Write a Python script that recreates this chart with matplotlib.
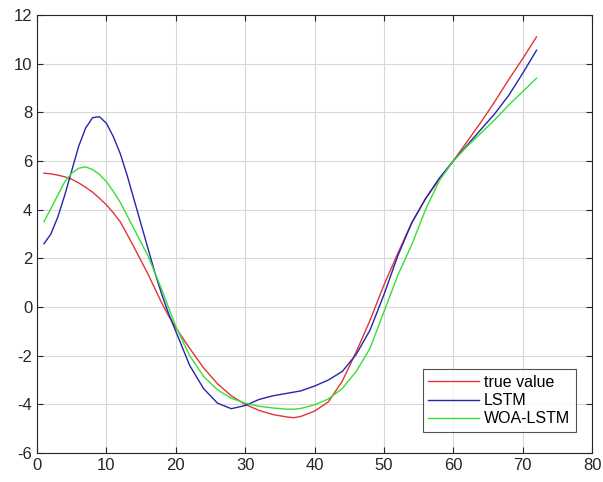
import matplotlib
matplotlib.use('Agg')
import matplotlib.pyplot as plt

# readings
x = [1, 2, 3, 4, 5, 6, 7, 8, 9, 10, 11, 12, 13, 14, 15, 16, 17, 18, 19, 20,
     22, 24, 26, 28, 30, 32, 34, 36, 37, 38, 40, 42, 44, 46, 48, 50, 52, 54,
     56, 58, 60, 62, 64, 66, 68, 70, 72]
true_value = [5.5, 5.47, 5.42, 5.35, 5.25, 5.1, 4.92, 4.72, 4.47, 4.2, 3.87, 3.5,
              2.98, 2.45, 1.9, 1.35, 0.75, 0.15, -0.38, -0.85, -1.7, -2.5,
              -3.15, -3.65, -4.0, -4.25, -4.42, -4.52, -4.55, -4.5, -4.28, -3.9,
              -3.05, -1.85, -0.55, 0.9, 2.2, 3.45, 4.45, 5.25, 6.0, 6.8, 7.6,
              8.45, 9.35, 10.2, 11.1]
lstm = [2.6, 3.0, 3.7, 4.6, 5.6, 6.6, 7.35, 7.78, 7.82, 7.55, 7.0, 6.3, 5.4, 4.4,
        3.4, 2.4, 1.4, 0.5, -0.3, -1.0, -2.4, -3.35, -3.95, -4.18, -4.05, -3.8,
        -3.65, -3.55, -3.5, -3.45, -3.25, -3.0, -2.65, -1.95, -0.95, 0.5, 2.1,
        3.45, 4.45, 5.3, 6.0, 6.65, 7.3, 7.95, 8.7, 9.6, 10.55]
woa_lstm = [3.5, 4.05, 4.6, 5.15, 5.5, 5.7, 5.76, 5.65, 5.45, 5.15, 4.75, 4.3,
            3.75, 3.2, 2.65, 2.1, 1.4, 0.7, -0.05, -0.8, -2.0, -2.85, -3.4,
            -3.75, -3.95, -4.08, -4.15, -4.2, -4.2, -4.17, -4.02, -3.78, -3.35,
            -2.65, -1.7, -0.2, 1.3, 2.55, 4.0, 5.2, 6.0, 6.6, 7.15, 7.7, 8.3,
            8.85, 9.4]

plt.rcParams['font.family'] = ['Liberation Sans', 'DejaVu Sans']
plt.rcParams['axes.unicode_minus'] = False
fig = plt.figure(figsize=(6.03, 4.82), dpi=100)
ax = fig.add_axes([0.0614, 0.0602, 0.9204, 0.9087])

ax.plot(x, true_value, color='#e03535', linewidth=1, label='true value')
ax.plot(x, lstm, color='#2525b0', linewidth=1, label='LSTM')
ax.plot(x, woa_lstm, color='#35e035', linewidth=1, label='WOA-LSTM')

ax.set_xlim(0, 80)
ax.set_ylim(-6, 12)
ax.set_xticks(range(0, 81, 10))
ax.set_yticks(range(-6, 13, 2))
ax.grid(True, color='#d8d8d8', linewidth=0.8)
ax.set_axisbelow(True)
ax.tick_params(direction='in', top=True, right=True, labelsize=12,
               length=4, color='#262626', labelcolor='#262626')
for s in ax.spines.values():
    s.set_color('#262626')
    s.set_linewidth(0.8)

leg = ax.legend(loc='lower right', bbox_to_anchor=(0.971, 0.048), fontsize=11.5,
                frameon=True, fancybox=False, edgecolor='#262626',
                handlelength=3.2, handletextpad=0.3, borderpad=0.35,
                labelspacing=0.2, borderaxespad=0)
leg.get_frame().set_linewidth(0.8)

fig.savefig('out.png', dpi=100)
